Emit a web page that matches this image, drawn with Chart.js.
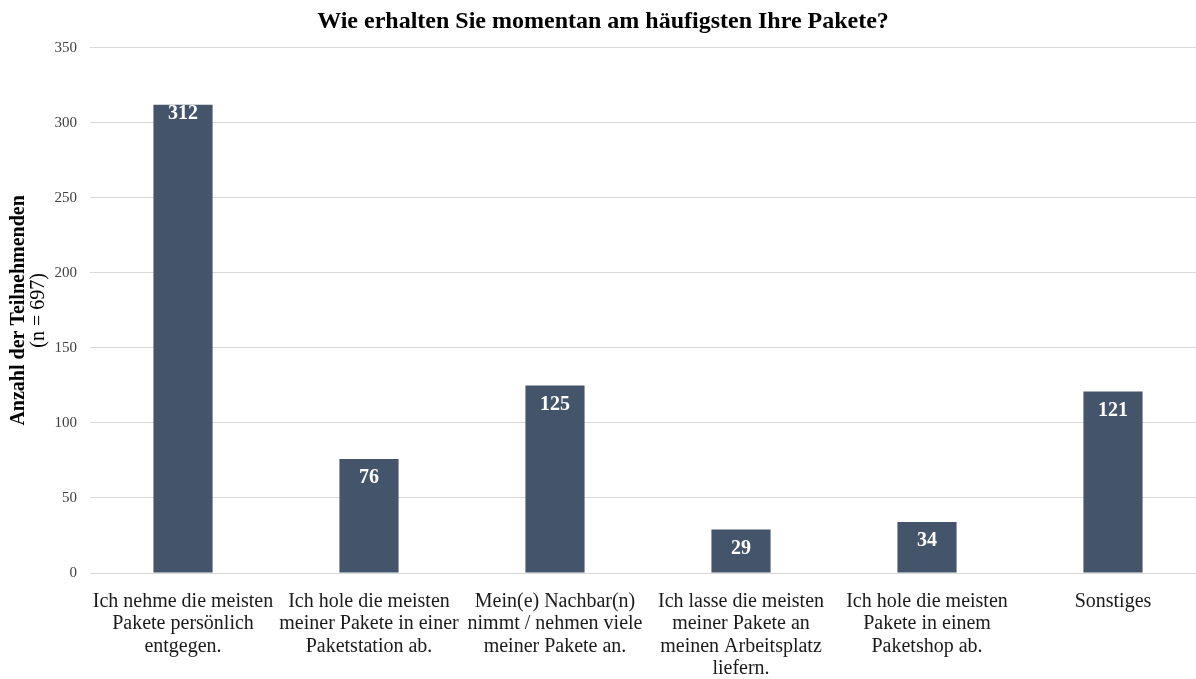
<!DOCTYPE html>
<html>
<head>
<meta charset="utf-8">
<script src="https://cdn.jsdelivr.net/npm/chart.js@4/dist/chart.umd.min.js"></script>
<style>
html,body{margin:0;padding:0;background:#fff;overflow:hidden;}
#wrap{width:1196px;height:679px;position:relative;overflow:hidden;}
</style>
</head>
<body>
<div id="wrap"><canvas id="c" width="1206" height="679"></canvas></div>
<script>
const categories = [
  ["Ich nehme die meisten", "Pakete persönlich", "entgegen."],
  ["Ich hole die meisten", "meiner Pakete in einer", "Paketstation ab."],
  ["Mein(e) Nachbar(n)", "nimmt / nehmen viele", "meiner Pakete an."],
  ["Ich lasse die meisten", "meiner Pakete an", "meinen Arbeitsplatz", "liefern."],
  ["Ich hole die meisten", "Pakete in einem", "Paketshop ab."],
  ["Sonstiges"]
];
const values = [312, 76, 125, 29, 34, 121];
const yTicks = [0, 50, 100, 150, 200, 250, 300, 350];
const titleText = "Wie erhalten Sie momentan am häufigsten Ihre Pakete?";
const yTitleMain = "Anzahl der Teilnehmenden";
const yTitleSub = "(n = 697)";

const FONT = "'Liberation Serif', 'Times New Roman', serif";

const labelPlugin = {
  id: 'labels',
  afterDatasetsDraw(chart) {
    const ctx = chart.ctx;
    const meta = chart.getDatasetMeta(0);
    const top = chart.chartArea.top;
    ctx.save();
    ctx.fillStyle = '#ffffff';
    ctx.font = 'bold 20px ' + FONT;
    ctx.textAlign = 'center';
    ctx.textBaseline = 'middle';
    meta.data.forEach((bar, i) => {
      const off = (bar.y - top < 80) ? 9 : 19;
      ctx.fillText(String(values[i]), bar.x, bar.y + off);
    });
    ctx.restore();
  }
};

const axisTitlePlugin = {
  id: 'axisTitle',
  afterDraw(chart) {
    const ctx = chart.ctx;
    const a = chart.chartArea;
    const cy = (a.top + a.bottom) / 2;
    ctx.save();
    ctx.fillStyle = '#000';
    ctx.textAlign = 'center';
    ctx.textBaseline = 'middle';
    ctx.translate(19, cy);
    ctx.rotate(-Math.PI / 2);
    ctx.font = 'bold 20px ' + FONT;
    ctx.fillText(yTitleMain, 0, 0);
    ctx.font = '20px ' + FONT;
    ctx.fillText(yTitleSub, 0, 20);
    ctx.restore();
  }
};

new Chart(document.getElementById('c'), {
  type: 'bar',
  data: {
    labels: categories,
    datasets: [{
      data: values,
      backgroundColor: '#44546A',
      barPercentage: 0.636,
      categoryPercentage: 0.5
    }]
  },
  options: {
    responsive: false,
    animation: false,
    layout: { padding: { top: 0, right: 0, left: 0, bottom: 0 } },
    plugins: {
      legend: { display: false },
      tooltip: { enabled: false },
      title: {
        display: true,
        text: titleText,
        color: '#000',
        font: { family: FONT, size: 24, weight: 'bold' },
        padding: { top: 7, bottom: 12 }
      }
    },
    scales: {
      x: {
        grid: { display: false, drawTicks: false },
        border: { display: false },
        ticks: {
          color: '#1a1a1a',
          font: { family: FONT, size: 20, lineHeight: 1.13 },
          maxRotation: 0,
          autoSkip: false,
          padding: 17
        },
        afterFit(scale) { scale.height = 106; }
      },
      y: {
        min: 0,
        max: 350,
        afterBuildTicks(scale) { scale.ticks = yTicks.map(v => ({ value: v })); },
        grid: { color: '#d9d9d9', drawTicks: false, lineWidth: 1 },
        border: { display: false },
        ticks: {
          color: '#404040',
          font: { family: FONT, size: 15 },
          padding: 13
        },
        afterFit(scale) { scale.width = 90; }
      }
    }
  },
  plugins: [labelPlugin, axisTitlePlugin]
});
</script>
</body>
</html>
